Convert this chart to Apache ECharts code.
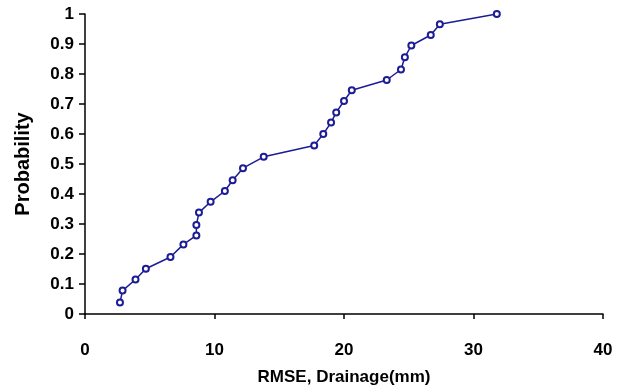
<!DOCTYPE html>
<html>
<head>
<meta charset="utf-8">
<script src="https://cdn.jsdelivr.net/npm/echarts@6/dist/echarts.min.js"></script>
<style>
	html, body { margin: 0; padding: 0; background: #fff; }
	#chart { width: 622px; height: 387px; }
</style>
</head>
<body>
<div id="chart"></div>
<script>
// RMSE of drainage (mm) and its cumulative probability
var rmse = [2.7, 2.9, 3.9, 4.7, 6.6, 7.6, 8.6, 8.6, 8.8, 9.7, 10.8, 11.4, 12.2, 13.8,
	17.7, 18.4, 19.0, 19.4, 20.0, 20.6, 23.3, 24.4, 24.7, 25.2, 26.7, 27.4, 31.8];
var prob = [0.038, 0.078, 0.115, 0.151, 0.19, 0.232, 0.262, 0.297, 0.338, 0.374, 0.41, 0.446,
	0.486, 0.524, 0.562, 0.6, 0.638, 0.672, 0.71, 0.746, 0.78, 0.815, 0.856, 0.895, 0.93, 0.966, 1.0];

var points = rmse.map(function (x, i) { return [x, prob[i]]; });

var myChart = echarts.init(document.getElementById('chart'));
var axisFont = {
	fontFamily: 'Liberation Sans, Arial, sans-serif',
	fontWeight: 'bold',
	color: '#000'
};
var option = {
	animation: false,
	grid: {left: 85, right: 19, top: 14, bottom: 73, outerBoundsMode: 'none'},
	xAxis: {
		type: 'value',
		min: 0,
		max: 40,
		interval: 10,
		name: 'RMSE, Drainage(mm)',
		nameLocation: 'middle',
		nameGap: 55,
		nameTextStyle: Object.assign({fontSize: 17}, axisFont),
		axisLine: {lineStyle: {color: '#000', width: 1.5}},
		axisTick: {length: 5, lineStyle: {color: '#000', width: 1.5}},
		axisLabel: Object.assign({fontSize: 17, margin: 28}, axisFont),
		splitLine: {show: false}
	},
	yAxis: {
		type: 'value',
		min: 0,
		max: 1,
		interval: 0.1,
		name: 'Probability',
		nameLocation: 'middle',
		nameGap: 52,
		nameTextStyle: Object.assign({fontSize: 20}, axisFont),
		axisLine: {show: true, lineStyle: {color: '#000', width: 1.5}},
		axisTick: {show: true, length: 6, lineStyle: {color: '#000', width: 1.5}},
		axisLabel: Object.assign({fontSize: 17, margin: 11}, axisFont),
		splitLine: {show: false}
	},
	series: [
		{
			type: 'line',
			data: points,
			symbol: 'emptyCircle',
			symbolSize: 6,
			lineStyle: {color: '#1c1c96', width: 1.5},
			itemStyle: {color: '#1c1c96', borderWidth: 1.2}
		}
	]
};
myChart.setOption(option);
</script>
</body>
</html>
